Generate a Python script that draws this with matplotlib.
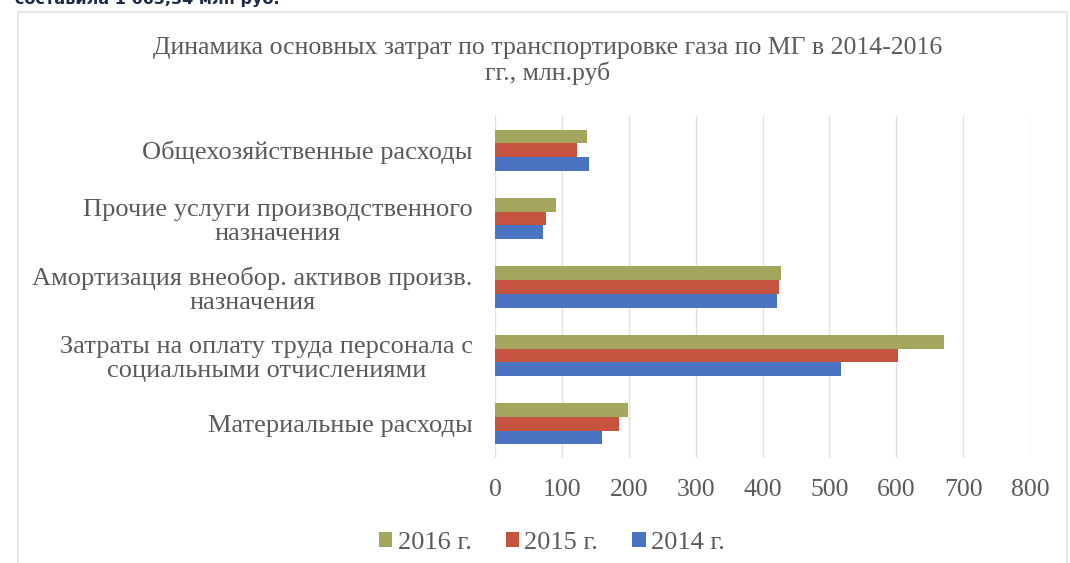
import numpy as np
import matplotlib.pyplot as plt

# categories from top to bottom
categories = [
    "Общехозяйственные расходы",
    "Прочие услуги производственного\nназначения",
    "Амортизация внеобор. активов произв.\nназначения",
    "Затраты на оплату труда персонала с\nсоциальными отчислениями",
    "Материальные расходы",
]
years = ["2014 г.", "2015 г.", "2016 г."]
costs_2014 = [140, 72, 422, 518, 160]
costs_2015 = [122, 76, 425, 603, 185]
costs_2016 = [137, 91, 428, 672, 199]
x_ticks = [0, 100, 200, 300, 400, 500, 600, 700, 800]

colors = {"2014 г.": "#4a74c2", "2015 г.": "#c4543f", "2016 г.": "#a3a65c"}
text_color = "#5a5a5a"
serif = ["Liberation Serif", "DejaVu Serif"]

fig = plt.figure(figsize=(10.7, 5.63), dpi=100)

# thin frame around the chart block
frame = plt.Rectangle((18 / 1070, -0.02), (1067 - 18) / 1070, 1 - 12 / 563 + 0.02,
                      transform=fig.transFigure, fill=False,
                      edgecolor="#e4e4e4", linewidth=1.2)
fig.add_artist(frame)

# tail of the sentence above the chart, cut by the top edge
fig.text(15 / 1070, 1 - 4 / 563, "составила 1 663,34 млн руб.", fontsize=11.5,
         fontweight="bold", color="#1f2a4a", ha="left", va="baseline")

ax = fig.add_axes([495 / 1070, 1 - 458 / 563, (1030 - 495) / 1070, 342 / 563])

y = np.arange(len(categories))
h = 0.2
series = [costs_2014, costs_2015, costs_2016]
offsets = [h, 0, -h]
for name, vals, off in zip(years, series, offsets):
    ax.barh(y + off, vals, height=h, color=colors[name], label=name,
            edgecolor="none", zorder=3)

ax.set_xlim(0, 800)
ax.set_ylim(len(categories) - 0.5, -0.5)
ax.set_xticks(x_ticks)
ax.set_xticklabels([str(t) for t in x_ticks], family=serif, fontsize=18.5,
                   color=text_color)
ax.set_yticks(y)
ax.set_yticklabels(categories, family=serif, fontsize=19, color=text_color,
                   multialignment="center", linespacing=1.12)
ax.tick_params(length=0, pad=15, axis="x")
ax.tick_params(length=0, pad=16, axis="y")
ax.grid(axis="x", color="#e0e0e0", linewidth=1, zorder=0)
for s in ax.spines.values():
    s.set_visible(False)

fig.text(548 / 1070, 1 - 61 / 563,
         "Динамика основных затрат по транспортировке газа по МГ в 2014-2016\nгг., млн.руб",
         ha="center", va="center", family=serif, fontsize=18.5, color=text_color,
         linespacing=1.1)

handles, labels = ax.get_legend_handles_labels()
fig.legend(handles[::-1], labels[::-1], loc="center", ncol=3,
           bbox_to_anchor=(552 / 1070, 1 - 543 / 563), frameon=False,
           prop={"family": serif, "size": 19}, labelcolor=text_color,
           handlelength=0.5, handleheight=0.5, handletextpad=0.2,
           columnspacing=1.3)

fig.savefig("out.png", dpi=100, facecolor="white")
